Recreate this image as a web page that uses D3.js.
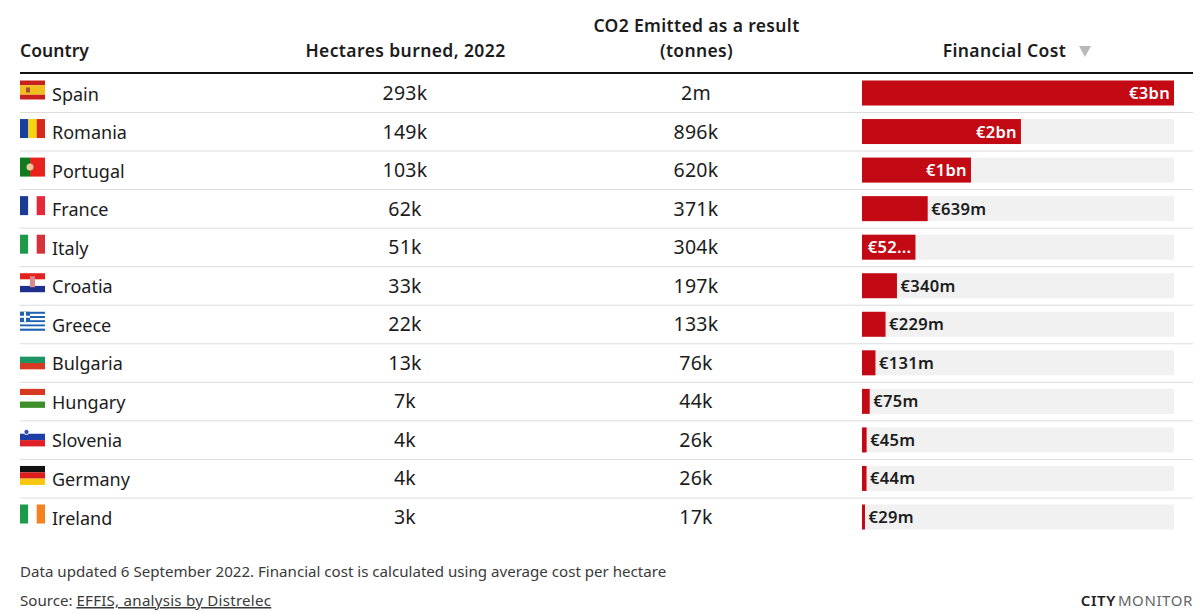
<!DOCTYPE html>
<html><head><meta charset="utf-8">
<script src="https://cdn.jsdelivr.net/npm/d3@7"></script>
<style>html,body{margin:0;padding:0;background:#fff}svg{display:block}text{font-family:"Noto Sans",sans-serif}</style>
</head><body><svg id="c" width="1200" height="614"></svg>
<script>
const countries=["Spain","Romania","Portugal","France","Italy","Croatia","Greece","Bulgaria","Hungary","Slovenia","Germany","Ireland"];
const hectares=["293k","149k","103k","62k","51k","33k","22k","13k","7k","4k","4k","3k"];
const co2=["2m","896k","620k","371k","304k","197k","133k","76k","44k","26k","26k","17k"];
const costValues=[3035,1546,1060,639,520,340,229,131,75,45,44,29];
const costLabels=["€3bn","€2bn","€1bn","€639m","€52...","€340m","€229m","€131m","€75m","€45m","€44m","€29m"];
const labelInside=[true,true,true,false,true,false,false,false,false,false,false,false];
const flagDirs=["h","v","v","v","v","h","h","h","h","h","h","v"];
const flagStripes=[
 [["#c8201c",1],["#f2bd1f",2],["#c8201c",1]],
 [["#1b3f9c",1],["#f7d40e",1],["#d8281c",1]],
 [["#0f7a1f",2],["#e8221c",3]],
 [["#1c3a94",1],["#ffffff",1],["#e5283a",1]],
 [["#1d9a48",1],["#ffffff",1],["#d5333c",1]],
 [["#e3211f",1],["#ffffff",1],["#1f2f8c",1]],
 [["#1e62b4",1],["#ffffff",1],["#1e62b4",1],["#ffffff",1],["#1e62b4",1],["#ffffff",1],["#1e62b4",1],["#ffffff",1],["#1e62b4",1]],
 [["#ffffff",1],["#1d9464",1],["#d63a22",1]],
 [["#d6391f",1],["#ffffff",1],["#3d8f2c",1]],
 [["#ffffff",1],["#1f3fa8",1],["#df2026",1]],
 [["#111111",1],["#dd1c1c",1],["#f9c80e",1]],
 [["#1c9a4c",1],["#ffffff",1],["#f58220",1]]
];
const headers=[["Country",20,"start",0.05],["Hectares burned, 2022",405.5,"middle",0.4],["Financial Cost",1004.5,"middle",0.4]];
const co2Header=["CO2 Emitted as a result","(tonnes)"];
const footnote="Data updated 6 September 2022. Financial cost is calculated using average cost per hectare";

const svg=d3.select("#c");
const y=d3.scalePoint().domain(countries).range([93,517]);
const x=d3.scaleLinear().domain([0,d3.max(costValues)]).range([0,312]);
const barX=862,barH=25,ink="#1c1c1c";

headers.forEach(h=>svg.append("text").attr("x",h[1]).attr("y",57).attr("text-anchor",h[2])
  .attr("font-size",17.5).attr("letter-spacing",h[3]).attr("font-weight",600).attr("fill",ink).text(h[0]));
co2Header.forEach((t,i)=>svg.append("text").attr("x",696.5).attr("y",32+i*25).attr("text-anchor","middle")
  .attr("font-size",17.5).attr("letter-spacing",0.35).attr("font-weight",600).attr("fill",ink).text(t));
svg.append("path").attr("d","M1079,46h12l-6,11z").attr("fill","#b9b9b9");
svg.append("line").attr("x1",20).attr("x2",1193).attr("y1",73).attr("y2",73).attr("stroke","#111").attr("stroke-width",2);

const rows=svg.selectAll("g.row").data(countries).join("g").attr("class","row")
  .attr("transform",d=>`translate(0,${y(d)})`);
rows.filter((d,i)=>i<countries.length-1).append("line").attr("x1",20).attr("x2",1193)
  .attr("y1",19.5).attr("y2",19.5).attr("stroke","#dcdcdc").attr("stroke-width",1);

rows.each(function(d,i){
  const g=d3.select(this).append("g").attr("transform","translate(20,-12.5)");
  const W=25,H=19,st=flagStripes[i],tot=d3.sum(st,s=>s[1]);
  let p=0;
  st.forEach(s=>{
    const len=(flagDirs[i]==="h"?H:W)*s[1]/tot;
    if(flagDirs[i]==="h")g.append("rect").attr("x",0).attr("y",p).attr("width",W).attr("height",len).attr("fill",s[0]);
    else g.append("rect").attr("x",p).attr("y",0).attr("width",len).attr("height",H).attr("fill",s[0]);
    p+=len;
  });
  if(d==="Spain")g.append("rect").attr("x",6).attr("y",7).attr("width",4).attr("height",5).attr("fill","#a8502a");
  if(d==="Portugal")g.append("circle").attr("cx",10).attr("cy",9.5).attr("r",3.5).attr("fill","#f0c8a0");
  if(d==="Croatia")g.append("rect").attr("x",10).attr("y",3).attr("width",5).attr("height",11).attr("fill","#d98a8a");
  if(d==="Greece"){g.append("rect").attr("width",10).attr("height",10).attr("fill","#1e62b4");
    g.append("rect").attr("x",4).attr("width",2).attr("height",10).attr("fill","#fff");
    g.append("rect").attr("y",4).attr("width",10).attr("height",2).attr("fill","#fff");}
  if(d==="Slovenia")g.append("circle").attr("cx",6.5).attr("cy",4.5).attr("r",2.6).attr("fill","#2f4fb0").attr("stroke","#fff");
});

const cell=(sel,fn,xp,anchor)=>sel.append("text").attr("x",xp).attr("y",7).attr("text-anchor",anchor)
  .attr("font-size",19.5).attr("letter-spacing",0.3).attr("fill",ink).text(fn);
rows.append("text").attr("x",52).attr("y",7.5).attr("font-size",18).attr("fill",ink).text(d=>d);
cell(rows,(d,i)=>hectares[i],405,"middle");
cell(rows,(d,i)=>co2[i],696,"middle");

rows.append("rect").attr("x",barX).attr("y",-12.5).attr("width",x.range()[1]).attr("height",barH).attr("fill","#f1f1f1");
rows.append("rect").attr("x",barX).attr("y",-12.5).attr("width",(d,i)=>x(costValues[i])).attr("height",barH).attr("fill","#c30a14");
rows.append("text").attr("x",(d,i)=>barX+x(costValues[i])+(labelInside[i]?-4:3.5))
  .attr("y",6).attr("text-anchor",(d,i)=>labelInside[i]?"end":"start")
  .attr("font-size",16.5).attr("letter-spacing",0.3).attr("font-weight",600)
  .attr("fill",(d,i)=>labelInside[i]?"#fff":ink).text((d,i)=>costLabels[i]);

svg.append("text").attr("x",20).attr("y",577).attr("font-size",15.1).attr("fill","#3a3a3a").text(footnote);
const src=svg.append("text").attr("x",20).attr("y",606).attr("font-size",15.1).attr("fill","#3a3a3a");
src.append("tspan").text("Source: ");
src.append("tspan").attr("text-decoration","underline").attr("letter-spacing",0.25).text("EFFIS, analysis by Distrelec");
const logo=svg.append("text").attr("x",1193).attr("y",606).attr("text-anchor","end").attr("font-size",15);
logo.append("tspan").attr("font-weight",600).attr("letter-spacing",0.6).attr("fill","#222").text("CITY");
logo.append("tspan").attr("dx",2).attr("fill","#666").attr("letter-spacing",0.6).text("MONITOR");
</script></body></html>
